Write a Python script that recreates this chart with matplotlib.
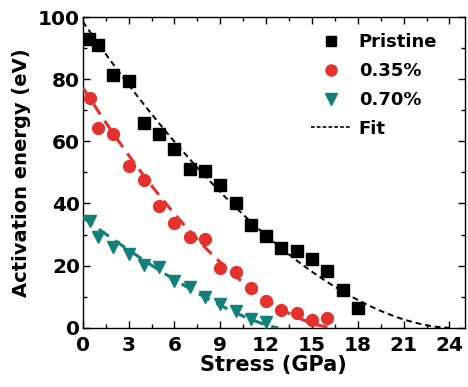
import numpy as np
import matplotlib
matplotlib.use("Agg")
import matplotlib.pyplot as plt
from matplotlib.ticker import MultipleLocator

plt.rcParams['font.family'] = ['DejaVu Sans']
plt.rcParams['font.weight'] = 'bold'

# Measured activation energies (eV) versus applied stress (GPa)
stress_pristine = [0.4, 1, 2, 3, 4, 5, 6, 7, 8, 9, 10, 11, 12, 13, 14, 15, 16, 17, 18]
energy_pristine = [92.8, 91.0, 81.2, 79.4, 66.0, 62.5, 57.6, 51.0, 50.6, 46.0,
                   40.0, 33.2, 29.4, 25.7, 24.8, 22.1, 18.4, 12.2, 6.5]

stress_035 = [0.5, 1, 2, 3, 4, 5, 6, 7, 8, 9, 10, 11, 12, 13, 14, 15, 16]
energy_035 = [74.0, 64.3, 62.3, 52.0, 47.6, 39.1, 33.8, 29.1, 28.5, 19.1,
              18.0, 12.7, 8.7, 5.7, 4.6, 2.5, 3.3]

stress_070 = [0.46, 1, 2, 3, 4, 5, 6, 7, 8, 9, 10, 11, 12]
energy_070 = [34.5, 29.1, 26.1, 23.7, 20.3, 19.5, 15.2, 13.2, 10.0, 7.8, 5.5, 2.8, 1.9]

# Fit parameters: E(s) = E0 * (1 - s/sc)^n
fit_pristine = dict(E0=98.5, sc=24.0, n=1.73)
fit_035 = dict(E0=77.3, sc=16.5, n=1.65)
fit_070 = dict(E0=35.5, sc=12.8, n=1.31)

RED = '#e5312b'
TEAL = '#12807a'


def fit_curve(p):
    s = np.linspace(0, p['sc'], 200)
    return s, p['E0'] * (1 - s / p['sc']) ** p['n']


fig = plt.figure(figsize=(4.68, 3.87), dpi=100)
ax = fig.add_axes([0.177, 0.153, 0.816, 0.803])

s, e = fit_curve(fit_pristine)
ax.plot(s, e, color='black', lw=1.4, dashes=(3, 2), zorder=3)
s, e = fit_curve(fit_035)
ax.plot(s, e, color=RED, lw=2.2, dashes=(4, 2.5), zorder=3)
s, e = fit_curve(fit_070)
ax.plot(s, e, color=TEAL, lw=2.2, dashes=(4, 2.5), zorder=3)

ax.plot(stress_pristine, energy_pristine, 's', color='black', ms=8, ls='none', zorder=4,
        label='Pristine')
ax.plot(stress_035, energy_035, 'o', color=RED, ms=8.5, ls='none', zorder=4, label='0.35%')
ax.plot(stress_070, energy_070, 'v', color=TEAL, ms=8.5, ls='none', zorder=4, label='0.70%')
ax.plot([], [], color='black', lw=1.2, dashes=(2.2, 1.3), label='Fit')

ax.set_xlim(0, 25)
ax.set_ylim(0, 100)
ax.xaxis.set_major_locator(MultipleLocator(3))
ax.xaxis.set_minor_locator(MultipleLocator(1.5))
ax.yaxis.set_major_locator(MultipleLocator(20))
ax.yaxis.set_minor_locator(MultipleLocator(10))
ax.tick_params(which='both', direction='in', top=True, right=True, width=1.0)
ax.tick_params(which='major', length=5, labelsize=14.5)
ax.tick_params(axis='y', which='major', pad=2)
ax.tick_params(axis='x', which='major', pad=6)
ax.tick_params(which='minor', length=3)
for sp in ax.spines.values():
    sp.set_linewidth(1.0)

ax.set_xlabel('Stress (GPa)', fontsize=15, fontweight='bold', labelpad=0)
ax.set_ylabel('Activation energy (eV)', fontsize=14, fontweight='bold', labelpad=5)

leg = ax.legend(loc='upper left', bbox_to_anchor=(0.597, 0.948), frameon=False,
                handlelength=2.2, handletextpad=0.45, labelspacing=0.6,
                borderpad=0, borderaxespad=0,
                prop={'weight': 'bold', 'size': 13})
leg.legend_handles[0].set_markersize(6.5)
leg.legend_handles[1].set_markersize(8)
leg.legend_handles[2].set_markersize(8)

fig.savefig('out.png', dpi=100)
